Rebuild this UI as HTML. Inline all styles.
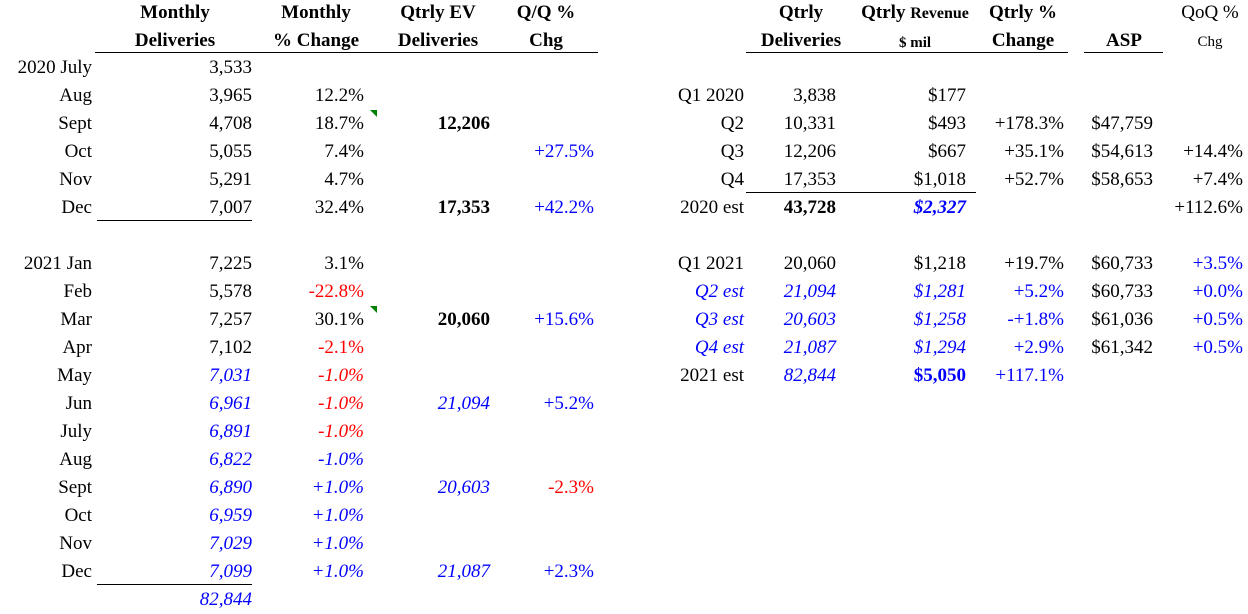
<!DOCTYPE html>
<html><head><meta charset="utf-8"><style>
body{margin:0;width:1248px;height:614px;background:#fff;position:relative;overflow:hidden;font-family:"Liberation Serif",serif;font-size:19px;color:#000}
span{position:absolute;white-space:nowrap;line-height:28px}
.h{font-weight:bold;text-align:center;line-height:28px}
.h span{position:static}
.b{color:#0000ff}.r{color:#ff0000}.i{font-style:italic}.w{font-weight:bold}
.ln{position:absolute;height:1px;background:#000}
.tri{position:absolute;width:0;height:0;border-top:7px solid #008000;border-left:7px solid transparent}
</style></head><body>
<div>
<span class="h" style="left:95px;width:160px;top:-1px">Monthly<br>Deliveries</span>
<span class="h" style="left:262px;width:108px;top:-1px">Monthly<br>% Change</span>
<span class="h" style="left:378px;width:120px;top:-1px">Qtrly EV<br>Deliveries</span>
<span class="h" style="left:500px;width:92px;top:-1px">Q/Q %<br>Chg</span>
<div class="ln" style="left:95px;width:503px;top:52px"></div>
</div>
<div>
<span class="h" style="left:745px;width:112px;top:-1px">Qtrly<br>Deliveries</span>
<span class="h" style="left:852px;width:126px;top:-1px">Qtrly <span style="font-size:16px">Revenue</span><br><span style="font-size:15px">$ mil</span></span>
<span class="h" style="left:978px;width:90px;top:-1px">Qtrly %<br>Change</span>
<span class="h" style="left:1085px;width:78px;top:27px">ASP</span>
<span class="h" style="left:1170px;width:80px;top:-1px;font-weight:normal">QoQ %<br><span style="font-size:15px">Chg</span></span>
<div class="ln" style="left:746px;width:322px;top:52px"></div>
<div class="ln" style="left:1084px;width:79px;top:52px"></div>
</div>
<div id="rows"></div>
<div class="ln" style="left:97px;width:155px;top:220px"></div>
<div class="ln" style="left:97px;width:155px;top:584px"></div>
<div class="ln" style="left:746px;width:230px;top:192px"></div>
<div class="tri" style="left:370px;top:110px"></div>
<div class="tri" style="left:370px;top:306px"></div>
<script>
const edges=[92,252,364,490,594];
const redges=[744,836,966,1064,1153,1243];
const leftRows=[
[0,["2020 July","3,533"]],
[1,["Aug","3,965","12.2%"]],
[2,["Sept","4,708","18.7%","12,206|w"]],
[3,["Oct","5,055","7.4%","","+27.5%|b"]],
[4,["Nov","5,291","4.7%"]],
[5,["Dec","7,007","32.4%","17,353|w","+42.2%|b"]],
[7,["2021 Jan","7,225","3.1%"]],
[8,["Feb","5,578","-22.8%|r"]],
[9,["Mar","7,257","30.1%","20,060|w","+15.6%|b"]],
[10,["Apr","7,102","-2.1%|r"]],
[11,["May","7,031|b i","-1.0%|r i"]],
[12,["Jun","6,961|b i","-1.0%|r i","21,094|b i","+5.2%|b"]],
[13,["July","6,891|b i","-1.0%|r i"]],
[14,["Aug","6,822|b i","-1.0%|b i"]],
[15,["Sept","6,890|b i","+1.0%|b i","20,603|b i","-2.3%|r"]],
[16,["Oct","6,959|b i","+1.0%|b i"]],
[17,["Nov","7,029|b i","+1.0%|b i"]],
[18,["Dec","7,099|b i","+1.0%|b i","21,087|b i","+2.3%|b"]],
[19,["","82,844|b i"]]
];
const rightRows=[
[1,["Q1 2020","3,838","$177"]],
[2,["Q2","10,331","$493","+178.3%","$47,759"]],
[3,["Q3","12,206","$667","+35.1%","$54,613","+14.4%"]],
[4,["Q4","17,353","$1,018","+52.7%","$58,653","+7.4%"]],
[5,["2020 est","43,728|w","$2,327|b i w","","","+112.6%"]],
[7,["Q1 2021","20,060","$1,218","+19.7%","$60,733","+3.5%|b"]],
[8,["Q2 est|b i","21,094|b i","$1,281|b i","+5.2%|b","$60,733","+0.0%|b"]],
[9,["Q3 est|b i","20,603|b i","$1,258|b i","-+1.8%|b","$61,036","+0.5%|b"]],
[10,["Q4 est|b i","21,087|b i","$1,294|b i","+2.9%|b","$61,342","+0.5%|b"]],
[11,["2021 est","82,844|b i","$5,050|b w","+117.1%|b"]]
];
const root=document.getElementById('rows');
function draw(rows,ed,prefix){
rows.forEach(([ri,cells])=>{cells.forEach((c,ci)=>{if(!c)return;const [t,cls]=c.split('|');
const s=document.createElement('span');


s.textContent=t;if(cls)s.className=cls;
s.style.right=(1248-ed[ci])+'px';s.style.top=(54+28*ri)+'px';root.appendChild(s);});});}
draw(leftRows,edges,'monthly');
draw(rightRows,redges,'quarterly');
</script>
</body></html>
